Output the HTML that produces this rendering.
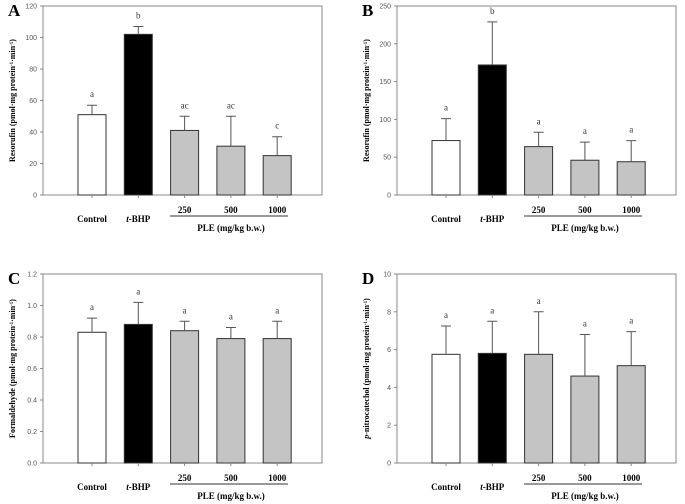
<!DOCTYPE html>
<html><head><meta charset="utf-8">
<style>
html,body{margin:0;padding:0;background:#fff;}
svg{display:block;font-family:"Liberation Serif",serif;}
</style></head>
<body>
<svg id="fig" width="685" height="504" viewBox="0 0 685 504"></svg>
<script>
const categories = ["Control","t-BHP","250","500","1000"];
const valuesA = [51,102,41,31,25];
const errorsA = [6,5,9,19,12];
const lettersA = ["a","b","ac","ac","c"];
const ticksA = [0,20,40,60,80,100,120];
const valuesB = [72,172,64,46,44];
const errorsB = [29,57,19,24,28];
const lettersB = ["a","b","a","a","a"];
const ticksB = [0,50,100,150,200,250];
const valuesC = [0.83,0.88,0.84,0.79,0.79];
const errorsC = [0.09,0.14,0.06,0.07,0.11];
const lettersC = ["a","a","a","a","a"];
const ticksC = ["0.0","0.2","0.4","0.6","0.8","1.0","1.2"];
const valuesD = [5.75,5.8,5.75,4.6,5.15];
const errorsD = [1.5,1.7,2.25,2.2,1.8];
const lettersD = ["a","a","a","a","a"];
const ticksD = [0,2,4,6,8,10];

const NS="http://www.w3.org/2000/svg";
const svg=document.getElementById('fig');
function mk(tag,attrs,parent,text){const e=document.createElementNS(NS,tag);for(const k in attrs)e.setAttribute(k,attrs[k]);if(text!==undefined)e.textContent=text;(parent||svg).appendChild(e);return e;}
const fills=["#ffffff","#000000","#c4c4c4","#c4c4c4","#c4c4c4"];

function panel(id,ox,oy,letter,values,errors,letters,ticks,ytitle,italicPrefix){
  const g=mk('g',{transform:`translate(${ox},${oy})`});
  
  
  const L=43,T=6,R=322,B=195;
  const tmax=parseFloat(ticks[ticks.length-1]);
  const y=v=>B-(v/tmax)*(B-T);
  const xc=i=>92+i*46.3;
  const bw=28;
  const pl=mk('text',{x:8,y:16,'font-size':17,'font-weight':'bold'},g,letter);
  
  
  const box=mk('rect',{x:L,y:T,width:R-L,height:B-T,fill:'none',stroke:'#888','stroke-width':1},g);
  
  
  ticks.forEach(t=>{
    const yy=y(parseFloat(t));
    mk('line',{x1:L-3,x2:L,y1:yy,y2:yy,stroke:'#888'},g);
    const tl=mk('text',{x:L-6,y:yy+2.5,'font-size':7,'text-anchor':'end',fill:'#555','font-family':'Liberation Sans, sans-serif'},g,String(t));
    
    
  });
  values.forEach((v,i)=>{
    const x=xc(i);
    const r=mk('rect',{x:x-bw/2,y:y(v),width:bw,height:B-y(v),fill:fills[i],stroke:'#333','stroke-width':1},g);
    
    
    const et=y(v+errors[i]);
    const eb=mk('path',{d:`M${x},${y(v)}V${et}M${x-5},${et}H${x+5}`,stroke:'#555','stroke-width':1,fill:'none'},g);
    
    
    const lt=mk('text',{x:x,y:et-8,'font-size':9,'text-anchor':'middle',fill:'#333'},g,letters[i]);
    
    
    mk('line',{x1:x,x2:x,y1:B,y2:B+3,stroke:'#888'},g);
    const ly = i<2 ? B+27 : B+18;
    let cl;
    if(i===1){cl=mk('text',{x:x,y:ly,'font-size':9,'font-weight':'bold','text-anchor':'middle'},g);
      mk('tspan',{'font-style':'italic'},cl,'t');mk('tspan',{},cl,'-BHP');}
    else cl=mk('text',{x:x,y:ly,'font-size':9,'font-weight':'bold','text-anchor':'middle'},g,categories[i]);
    
    
  });
  const ln=mk('line',{x1:170,x2:288,y1:B+21,y2:B+21,stroke:'#333','stroke-width':1},g);
  
  
  const pt=mk('text',{x:231,y:B+36,'font-size':9,'font-weight':'bold','text-anchor':'middle'},g,'PLE (mg/kg b.w.)');
  
  
  const yt=mk('text',{transform:`translate(15,${(T+B)/2}) rotate(-90)`,'font-size':8,'font-weight':'bold','text-anchor':'middle'},g);
  
  
  if(italicPrefix) mk('tspan',{'font-style':'italic'},yt,italicPrefix);
  mk('tspan',{},yt,ytitle+' (pmol·mg protein');
  mk('tspan',{'baseline-shift':'super','font-size':5},yt,'-1');
  mk('tspan',{},yt,'·min');
  mk('tspan',{'baseline-shift':'super','font-size':5},yt,'-1');
  mk('tspan',{},yt,')');
}
panel('a',0,0,'A',valuesA,errorsA,lettersA,ticksA,'Resorufin');
panel('b',354,0,'B',valuesB,errorsB,lettersB,ticksB,'Resorufin');
panel('c',0,268,'C',valuesC,errorsC,lettersC,ticksC,'Formaldehyde');
panel('d',354,268,'D',valuesD,errorsD,lettersD,ticksD,'-nitrocatechol','p');
</script>
</body></html>
